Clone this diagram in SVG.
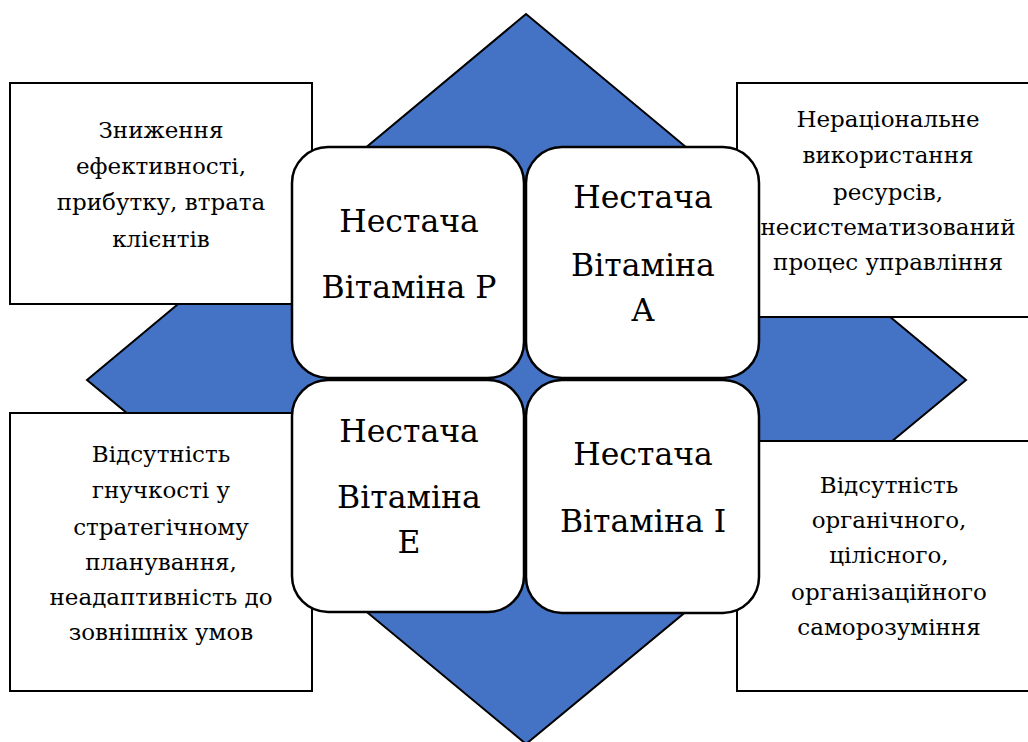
<svg xmlns="http://www.w3.org/2000/svg" width="1028" height="742" viewBox="0 0 1028 742">
<style>
.dia{fill:#4472C4;stroke:#000;stroke-width:2}
.box{fill:#fff;stroke:#000;stroke-width:2}
.sq{fill:#fff;stroke:#000;stroke-width:2.5}
</style>
<rect width="1028" height="742" fill="#fff"/>
<g id="diamond"><polygon class="dia" points="526,14 966,380 526,744 87,380"/></g>
<g id="connectors"></g>
<g font-family="DejaVu Serif" text-anchor="middle" fill="#000">
<g id="box-tl"><rect class="box" x="10" y="83" width="302" height="221"/>
<text font-size="23"><tspan x="161" y="138">Зниження</tspan><tspan x="161" y="174">ефективності,</tspan><tspan x="161" y="210">прибутку, втрата</tspan><tspan x="161" y="247">клієнтів</tspan></text></g>
<g id="box-tr"><rect class="box" x="737" y="83" width="302" height="234"/>
<text font-size="23"><tspan x="888" y="127">Нераціональне</tspan><tspan x="888" y="163">використання</tspan><tspan x="888" y="200">ресурсів,</tspan><tspan x="888" y="235">несистематизований</tspan><tspan x="888" y="270">процес управління</tspan></text></g>
<g id="box-bl"><rect class="box" x="10" y="413" width="302" height="278"/>
<text font-size="23"><tspan x="161" y="462">Відсутність</tspan><tspan x="161" y="498">гнучкості у</tspan><tspan x="161" y="535">стратегічному</tspan><tspan x="161" y="570">планування,</tspan><tspan x="161" y="605">неадаптивність до</tspan><tspan x="161" y="640">зовнішніх умов</tspan></text></g>
<g id="box-br"><rect class="box" x="737" y="441" width="302" height="250"/>
<text font-size="23"><tspan x="889" y="493">Відсутність</tspan><tspan x="889" y="528">органічного,</tspan><tspan x="889" y="563">цілісного,</tspan><tspan x="889" y="600">організаційного</tspan><tspan x="889" y="635">саморозуміння</tspan></text></g>
<g id="sq-p"><rect class="sq" x="292" y="147" width="232" height="231" rx="36"/>
<text font-size="31.5"><tspan x="409" y="232">Нестача</tspan><tspan x="409" y="298">Вітаміна Р</tspan></text></g>
<g id="sq-a"><rect class="sq" x="526" y="147" width="233" height="231" rx="36"/>
<text font-size="31.5"><tspan x="643" y="208">Нестача</tspan><tspan x="643" y="276">Вітаміна</tspan><tspan x="643" y="321">А</tspan></text></g>
<g id="sq-e"><rect class="sq" x="292" y="380" width="232" height="232" rx="36"/>
<text font-size="31.5"><tspan x="409" y="442">Нестача</tspan><tspan x="409" y="508">Вітаміна</tspan><tspan x="409" y="553">Е</tspan></text></g>
<g id="sq-i"><rect class="sq" x="526" y="380" width="233" height="233" rx="36"/>
<text font-size="31.5"><tspan x="643" y="465">Нестача</tspan><tspan x="643" y="532">Вітаміна І</tspan></text></g>
</g>
</svg>
